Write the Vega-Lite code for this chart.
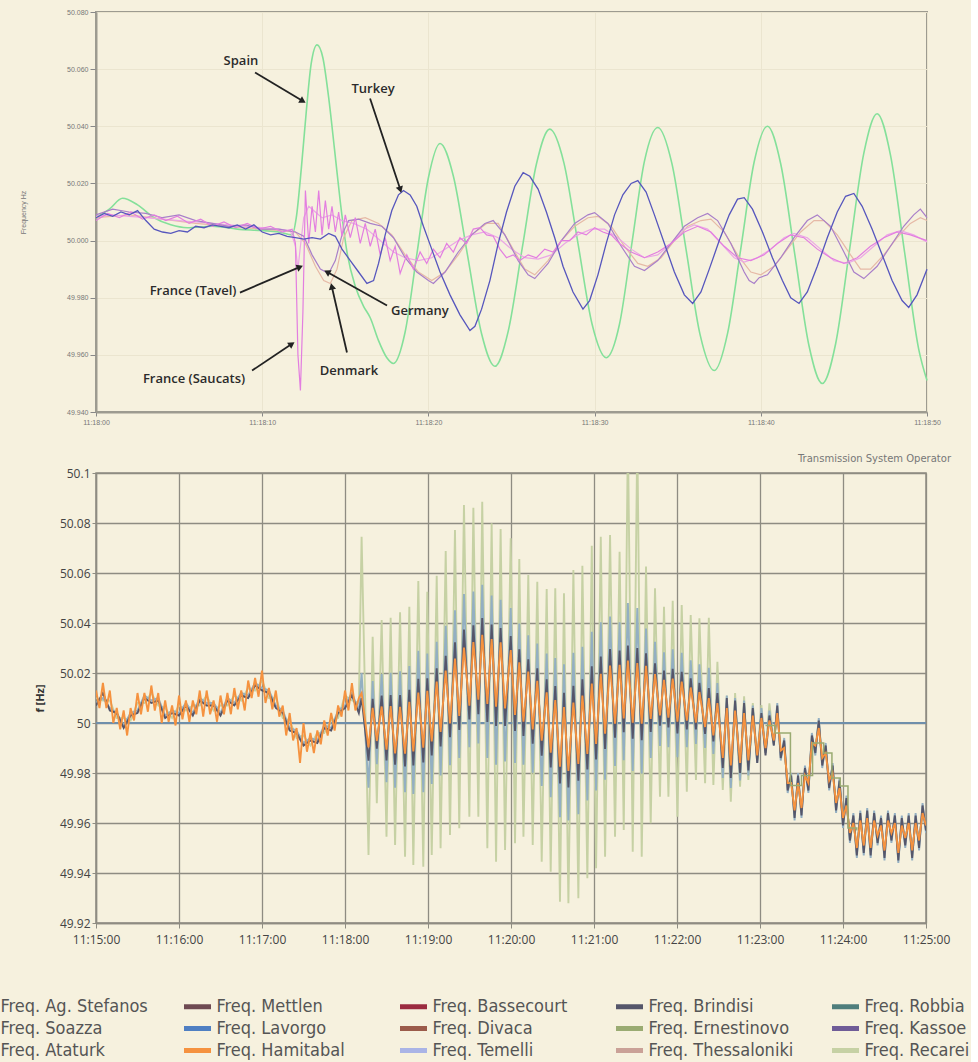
{
"$schema": "https://vega.github.io/schema/vega-lite/v6.json",
"background": "#f6f1de",
"padding": {"left": -31, "top": 7, "right": 0, "bottom": 0},
"spacing": 27,
"resolve": {"scale": {"color": "independent"}, "legend": {"color": "independent"}},
"datasets": {
"spain": [{"t":0,"f":50.008},{"t":0.8,"f":50.011},{"t":1.6,"f":50.0148},{"t":2.5,"f":50.0125},{"t":3.5,"f":50.008},{"t":4.5,"f":50.0055},{"t":5.5,"f":50.0045},{"t":7,"f":50.005},{"t":8.5,"f":50.004},{"t":10,"f":50.0035},{"t":11,"f":50.003},{"t":11.8,"f":50.002},{"t":12.05,"f":50.008},{"t":12.35,"f":50.025},{"t":12.65,"f":50.045},{"t":12.95,"f":50.062},{"t":13.3,"f":50.0685},{"t":13.65,"f":50.064},{"t":14.0,"f":50.05},{"t":14.35,"f":50.032},{"t":14.7,"f":50.0135},{"t":15.1,"f":49.996},{"t":15.6,"f":49.984},{"t":16.1,"f":49.977},{"t":16.5,"f":49.973},{"t":17.0,"f":49.965},{"t":17.5,"f":49.959},{"t":17.9,"f":49.957},{"t":18.6,"f":49.968},{"t":19.3,"f":49.995},{"t":20.0,"f":50.022},{"t":20.7,"f":50.034},{"t":21.5,"f":50.0226},{"t":22.35,"f":49.995},{"t":23.2,"f":49.9674},{"t":24.0,"f":49.956},{"t":24.8,"f":49.9682},{"t":25.65,"f":49.9975},{"t":26.5,"f":50.0268},{"t":27.3,"f":50.039},{"t":28.15,"f":50.0273},{"t":29.0,"f":49.999},{"t":29.85,"f":49.9707},{"t":30.7,"f":49.959},{"t":31.5,"f":49.9708},{"t":32.25,"f":49.9993},{"t":33.0,"f":50.0278},{"t":33.8,"f":50.0396},{"t":34.65,"f":50.027},{"t":35.5,"f":49.997},{"t":36.35,"f":49.967},{"t":37.2,"f":49.9545},{"t":38.0,"f":49.9675},{"t":38.8,"f":49.9973},{"t":39.6,"f":50.0275},{"t":40.4,"f":50.040},{"t":41.2,"f":50.0268},{"t":42.05,"f":49.995},{"t":42.9,"f":49.9632},{"t":43.7,"f":49.950},{"t":44.5,"f":49.9638},{"t":45.35,"f":49.9972},{"t":46.2,"f":50.0306},{"t":47.0,"f":50.0444},{"t":47.8,"f":50.030},{"t":48.65,"f":49.996},{"t":49.5,"f":49.962},{"t":50,"f":49.951}],
"turkey": [{"t":0,"f":50.008},{"t":0.5,"f":50.0095},{"t":1,"f":50.0085},{"t":1.5,"f":50.010},{"t":2,"f":50.009},{"t":2.5,"f":50.0105},{"t":3,"f":50.007},{"t":3.5,"f":50.004},{"t":4,"f":50.003},{"t":4.5,"f":50.0025},{"t":5,"f":50.0035},{"t":5.5,"f":50.003},{"t":6,"f":50.005},{"t":6.5,"f":50.0045},{"t":7,"f":50.0055},{"t":7.5,"f":50.005},{"t":8,"f":50.0045},{"t":8.5,"f":50.0055},{"t":9,"f":50.004},{"t":9.5,"f":50.0055},{"t":10,"f":50.003},{"t":10.5,"f":50.002},{"t":11,"f":50.0025},{"t":11.5,"f":50.0015},{"t":12,"f":50.001},{"t":12.5,"f":50.0005},{"t":13,"f":50.001},{"t":13.5,"f":50.0005},{"t":14,"f":50.0025},{"t":14.4,"f":50.0015},{"t":14.8,"f":49.997},{"t":15.3,"f":49.993},{"t":15.8,"f":49.989},{"t":16.3,"f":49.985},{"t":16.7,"f":49.986},{"t":17.0,"f":49.992},{"t":17.4,"f":50.002},{"t":17.8,"f":50.0105},{"t":18.2,"f":50.016},{"t":18.5,"f":50.0175},{"t":18.9,"f":50.016},{"t":19.3,"f":50.012},{"t":19.7,"f":50.005},{"t":20.2,"f":49.997},{"t":20.7,"f":49.989},{"t":21.3,"f":49.981},{"t":21.9,"f":49.974},{"t":22.5,"f":49.9685},{"t":22.8,"f":49.970},{"t":23.2,"f":49.976},{"t":23.7,"f":49.986},{"t":24.2,"f":49.999},{"t":24.7,"f":50.010},{"t":25.2,"f":50.019},{"t":25.7,"f":50.0238},{"t":26.1,"f":50.0225},{"t":26.6,"f":50.018},{"t":27.1,"f":50.010},{"t":27.6,"f":50.001},{"t":28.1,"f":49.991},{"t":28.7,"f":49.982},{"t":29.3,"f":49.976},{"t":29.7,"f":49.979},{"t":30.2,"f":49.988},{"t":30.7,"f":49.999},{"t":31.2,"f":50.009},{"t":31.7,"f":50.016},{"t":32.2,"f":50.020},{"t":32.6,"f":50.021},{"t":33.1,"f":50.017},{"t":33.6,"f":50.009},{"t":34.2,"f":49.999},{"t":34.8,"f":49.989},{"t":35.4,"f":49.981},{"t":35.9,"f":49.978},{"t":36.4,"f":49.982},{"t":36.9,"f":49.990},{"t":37.5,"f":50.000},{"t":38.1,"f":50.009},{"t":38.6,"f":50.0145},{"t":39.0,"f":50.015},{"t":39.5,"f":50.011},{"t":40.1,"f":50.003},{"t":40.7,"f":49.994},{"t":41.3,"f":49.986},{"t":41.8,"f":49.980},{"t":42.3,"f":49.978},{"t":42.8,"f":49.982},{"t":43.4,"f":49.991},{"t":44.0,"f":50.001},{"t":44.6,"f":50.010},{"t":45.1,"f":50.0155},{"t":45.6,"f":50.0165},{"t":46.1,"f":50.012},{"t":46.7,"f":50.004},{"t":47.3,"f":49.995},{"t":47.9,"f":49.986},{"t":48.5,"f":49.979},{"t":48.9,"f":49.9766},{"t":49.4,"f":49.981},{"t":50,"f":49.990}],
"germany": [{"t":0,"f":50.009},{"t":1,"f":50.011},{"t":2,"f":50.010},{"t":3,"f":50.0095},{"t":4,"f":50.008},{"t":5,"f":50.009},{"t":6,"f":50.007},{"t":7,"f":50.006},{"t":8,"f":50.005},{"t":9,"f":50.0055},{"t":10,"f":50.004},{"t":11,"f":50.004},{"t":12,"f":50.003},{"t":12.5,"f":50.0015},{"t":13.0,"f":49.995},{"t":13.5,"f":49.990},{"t":14.0,"f":49.9885},{"t":14.4,"f":49.993},{"t":14.8,"f":50.002},{"t":15.2,"f":50.007},{"t":15.8,"f":50.0075},{"t":16.5,"f":50.006},{"t":17.2,"f":50.005},{"t":17.9,"f":50.001},{"t":18.6,"f":49.994},{"t":19.3,"f":49.989},{"t":20.0,"f":49.986},{"t":20.3,"f":49.985},{"t":21.0,"f":49.989},{"t":21.8,"f":49.996},{"t":22.6,"f":50.002},{"t":23.4,"f":50.006},{"t":23.9,"f":50.007},{"t":24.6,"f":50.002},{"t":25.4,"f":49.993},{"t":26.0,"f":49.988},{"t":26.4,"f":49.9867},{"t":27.2,"f":49.992},{"t":28.0,"f":50.0},{"t":28.8,"f":50.006},{"t":29.6,"f":50.009},{"t":30.0,"f":50.0098},{"t":30.8,"f":50.006},{"t":31.6,"f":49.998},{"t":32.4,"f":49.991},{"t":33.0,"f":49.9895},{"t":33.8,"f":49.993},{"t":34.6,"f":49.999},{"t":35.4,"f":50.005},{"t":36.2,"f":50.008},{"t":36.8,"f":50.0095},{"t":37.4,"f":50.007},{"t":38.2,"f":49.999},{"t":39.0,"f":49.989},{"t":39.3,"f":49.986},{"t":39.6,"f":49.985},{"t":39.9,"f":49.987},{"t":40.4,"f":49.988},{"t":41.2,"f":49.994},{"t":42.0,"f":50.001},{"t":42.8,"f":50.007},{"t":43.4,"f":50.009},{"t":44.2,"f":50.005},{"t":45.0,"f":49.996},{"t":45.6,"f":49.989},{"t":46.2,"f":49.9867},{"t":47.0,"f":49.991},{"t":47.8,"f":49.998},{"t":48.6,"f":50.005},{"t":49.2,"f":50.009},{"t":49.6,"f":50.011},{"t":50,"f":50.008}],
"denmark": [{"t":0,"f":50.008},{"t":2,"f":50.009},{"t":4,"f":50.0075},{"t":6,"f":50.006},{"t":8,"f":50.005},{"t":10,"f":50.004},{"t":12,"f":50.003},{"t":12.6,"f":49.999},{"t":13.2,"f":49.991},{"t":13.7,"f":49.986},{"t":14.1,"f":49.985},{"t":14.5,"f":49.990},{"t":14.9,"f":50.001},{"t":15.4,"f":50.007},{"t":16.2,"f":50.008},{"t":17.0,"f":50.006},{"t":17.8,"f":50.002},{"t":18.6,"f":49.995},{"t":19.4,"f":49.989},{"t":20.2,"f":49.986},{"t":21.0,"f":49.989},{"t":21.8,"f":49.995},{"t":22.6,"f":50.002},{"t":23.5,"f":50.006},{"t":24.2,"f":50.006},{"t":25.0,"f":49.998},{"t":25.8,"f":49.990},{"t":26.4,"f":49.988},{"t":27.2,"f":49.993},{"t":28.0,"f":50.000},{"t":28.8,"f":50.005},{"t":29.6,"f":50.008},{"t":30.2,"f":50.0085},{"t":31.0,"f":50.005},{"t":31.8,"f":49.998},{"t":32.6,"f":49.992},{"t":33.2,"f":49.991},{"t":34.0,"f":49.994},{"t":34.8,"f":50.000},{"t":35.6,"f":50.005},{"t":36.4,"f":50.007},{"t":37.0,"f":50.0075},{"t":37.8,"f":50.003},{"t":38.6,"f":49.995},{"t":39.4,"f":49.989},{"t":40.0,"f":49.988},{"t":40.8,"f":49.991},{"t":41.6,"f":49.997},{"t":42.4,"f":50.003},{"t":43.2,"f":50.007},{"t":43.8,"f":50.007},{"t":44.6,"f":50.002},{"t":45.4,"f":49.995},{"t":46.0,"f":49.990},{"t":46.6,"f":49.990},{"t":47.4,"f":49.995},{"t":48.2,"f":50.001},{"t":49.0,"f":50.006},{"t":49.6,"f":50.008},{"t":50,"f":50.007}],
"tavel": [{"t":0,"f":50.0085},{"t":1,"f":50.009},{"t":2,"f":50.0085},{"t":3,"f":50.008},{"t":4,"f":50.0075},{"t":5,"f":50.007},{"t":6,"f":50.0065},{"t":7,"f":50.006},{"t":8,"f":50.0055},{"t":9,"f":50.005},{"t":10,"f":50.0045},{"t":11,"f":50.004},{"t":11.7,"f":50.0035},{"t":12.0,"f":49.998},{"t":12.15,"f":49.990},{"t":12.3,"f":49.998},{"t":12.5,"f":50.008},{"t":12.8,"f":50.012},{"t":13.2,"f":50.010},{"t":13.6,"f":50.008},{"t":14.2,"f":50.009},{"t":14.8,"f":50.007},{"t":15.5,"f":50.006},{"t":16.3,"f":50.004},{"t":17.1,"f":50.0},{"t":17.9,"f":49.996},{"t":18.6,"f":49.994},{"t":19.4,"f":49.993},{"t":20.2,"f":49.994},{"t":21.0,"f":49.997},{"t":21.8,"f":50.0},{"t":22.6,"f":50.002},{"t":23.4,"f":50.003},{"t":24.2,"f":50.001},{"t":25.0,"f":49.997},{"t":25.8,"f":49.994},{"t":26.6,"f":49.9935},{"t":27.4,"f":49.995},{"t":28.2,"f":49.999},{"t":29.0,"f":50.002},{"t":29.8,"f":50.004},{"t":30.6,"f":50.004},{"t":31.4,"f":50.001},{"t":32.2,"f":49.997},{"t":33.0,"f":49.994},{"t":33.8,"f":49.995},{"t":34.6,"f":49.999},{"t":35.4,"f":50.004},{"t":36.0,"f":50.0055},{"t":36.8,"f":50.004},{"t":37.6,"f":49.999},{"t":38.4,"f":49.994},{"t":39.0,"f":49.9925},{"t":39.8,"f":49.994},{"t":40.6,"f":49.997},{"t":41.4,"f":50.001},{"t":42.0,"f":50.0025},{"t":42.8,"f":50.001},{"t":43.6,"f":49.997},{"t":44.4,"f":49.993},{"t":45.2,"f":49.992},{"t":46.0,"f":49.994},{"t":46.8,"f":49.998},{"t":47.6,"f":50.002},{"t":48.4,"f":50.0035},{"t":49.2,"f":50.002},{"t":50,"f":49.9995}],
"saucats": [{"t":0,"f":50.007},{"t":0.7,"f":50.0095},{"t":1.4,"f":50.008},{"t":2.1,"f":50.010},{"t":2.8,"f":50.0075},{"t":3.5,"f":50.009},{"t":4.2,"f":50.007},{"t":4.9,"f":50.0085},{"t":5.6,"f":50.006},{"t":6.3,"f":50.0075},{"t":7,"f":50.005},{"t":7.7,"f":50.0065},{"t":8.4,"f":50.0045},{"t":9.1,"f":50.006},{"t":9.8,"f":50.004},{"t":10.5,"f":50.005},{"t":11.2,"f":50.003},{"t":11.8,"f":50.004},{"t":12.0,"f":49.999},{"t":12.15,"f":49.96},{"t":12.3,"f":49.9475},{"t":12.45,"f":49.975},{"t":12.6,"f":50.0175},{"t":12.8,"f":49.999},{"t":13.0,"f":50.012},{"t":13.2,"f":50.003},{"t":13.4,"f":50.0175},{"t":13.6,"f":50.002},{"t":13.8,"f":50.014},{"t":14.0,"f":50.004},{"t":14.2,"f":50.012},{"t":14.4,"f":50.003},{"t":14.6,"f":50.010},{"t":14.8,"f":50.0015},{"t":15.0,"f":50.009},{"t":15.3,"f":50.001},{"t":15.6,"f":50.008},{"t":15.9,"f":49.999},{"t":16.2,"f":50.006},{"t":16.5,"f":49.998},{"t":16.8,"f":50.004},{"t":17.1,"f":49.995},{"t":17.4,"f":50.001},{"t":17.7,"f":49.993},{"t":18.0,"f":49.998},{"t":18.3,"f":49.9885},{"t":18.7,"f":49.995},{"t":19.1,"f":49.990},{"t":19.5,"f":49.996},{"t":19.9,"f":49.992},{"t":20.3,"f":49.997},{"t":20.7,"f":49.994},{"t":21.1,"f":49.999},{"t":21.5,"f":49.996},{"t":21.9,"f":50.001},{"t":22.3,"f":49.999},{"t":22.7,"f":50.004},{"t":23.1,"f":50.0045},{"t":23.5,"f":50.002},{"t":23.9,"f":50.0015},{"t":24.3,"f":49.997},{"t":24.7,"f":49.994},{"t":25.1,"f":49.995},{"t":25.5,"f":49.993},{"t":26.0,"f":49.995},{"t":26.5,"f":49.994},{"t":27.0,"f":49.997},{"t":27.5,"f":49.996},{"t":28.0,"f":50.0},{"t":28.5,"f":50.0},{"t":29.0,"f":50.003},{"t":29.5,"f":50.002},{"t":30.0,"f":50.0045},{"t":30.5,"f":50.003},{"t":31.0,"f":50.002},{"t":31.5,"f":49.999},{"t":32.2,"f":49.996},{"t":33.0,"f":49.994},{"t":33.8,"f":49.996},{"t":34.6,"f":49.999},{"t":35.4,"f":50.003},{"t":36.2,"f":50.005},{"t":37.0,"f":50.003},{"t":37.8,"f":49.998},{"t":38.6,"f":49.994},{"t":39.4,"f":49.993},{"t":40.2,"f":49.995},{"t":41.0,"f":49.999},{"t":41.8,"f":50.002},{"t":42.6,"f":50.001},{"t":43.4,"f":49.997},{"t":44.2,"f":49.994},{"t":45.0,"f":49.992},{"t":45.8,"f":49.994},{"t":46.6,"f":49.998},{"t":47.4,"f":50.001},{"t":48.2,"f":50.003},{"t":49.0,"f":50.002},{"t":50,"f":50.000}],
"labels": [{"n":"Spain","t":8.72,"f":50.0627},{"n":"Turkey","t":16.67,"f":50.0529},{"n":"France (Tavel)","t":5.84,"f":49.9822},{"n":"France (Saucats)","t":5.9,"f":49.9517},{"n":"Germany","t":19.49,"f":49.9752},{"n":"Denmark","t":15.22,"f":49.9545}],
"arrows": [{"n":"Spain","t":9.57,"f":50.0588,"t2":12.39,"f2":50.049},{"n":"Turkey","t":16.49,"f":50.0497,"t2":18.29,"f2":50.0182},{"n":"Tavel","t":8.66,"f":49.9818,"t2":12.21,"f2":49.9906},{"n":"Saucats","t":9.39,"f":49.9545,"t2":11.73,"f2":49.9636},{"n":"Germany","t":17.51,"f":49.9773,"t2":13.96,"f2":49.9888},{"n":"Denmark","t":15.1,"f":49.9608,"t2":14.2,"f2":49.9836}],
"ref": [{"s":"Ag. Stefanos","t":0,"f":50},{"s":"Ag. Stefanos","t":600,"f":50}],
"ern": [{"s":"Ernestinovo","t":484,"f":49.999},{"s":"Ernestinovo","t":491,"f":49.996},{"s":"Ernestinovo","t":502,"f":49.975},{"s":"Ernestinovo","t":510,"f":49.979},{"s":"Ernestinovo","t":518,"f":49.992},{"s":"Ernestinovo","t":526,"f":49.988},{"s":"Ernestinovo","t":532,"f":49.978},{"s":"Ernestinovo","t":538,"f":49.9748},{"s":"Ernestinovo","t":543.6,"f":49.958},{"s":"Ernestinovo","t":550,"f":49.957}],
"bot": [
{"t":0,"Recarei":50.010,"Soazza":50.008,"Brindisi":50.007,"Hamitabal":50.013},
{"t":2.5,"Hamitabal":50.006},
{"t":5,"Recarei":50.009,"Soazza":50.010,"Brindisi":50.012,"Hamitabal":50.016},
{"t":7.5,"Hamitabal":50.006},
{"t":10,"Recarei":50.009,"Soazza":50.006,"Brindisi":50.005,"Hamitabal":50.013},
{"t":12.5,"Hamitabal":50.000},
{"t":15,"Recarei":50.002,"Soazza":50.004,"Brindisi":50.004,"Hamitabal":50.006},
{"t":17.5,"Hamitabal":49.9975},
{"t":20,"Recarei":50.002,"Soazza":49.999,"Brindisi":49.998,"Hamitabal":50.005},
{"t":22.5,"Hamitabal":49.995},
{"t":25,"Recarei":50.001,"Soazza":50.004,"Brindisi":50.003,"Hamitabal":50.006},
{"t":27.5,"Hamitabal":50.001},
{"t":30,"Recarei":50.008,"Soazza":50.005,"Brindisi":50.004,"Hamitabal":50.012},
{"t":32.5,"Hamitabal":50.0035},
{"t":35,"Recarei":50.008,"Soazza":50.011,"Brindisi":50.010,"Hamitabal":50.012},
{"t":37.5,"Hamitabal":50.0045},
{"t":40,"Recarei":50.012,"Soazza":50.009,"Brindisi":50.008,"Hamitabal":50.015},
{"t":42.5,"Hamitabal":50.005},
{"t":45,"Recarei":50.007,"Soazza":50.010,"Brindisi":50.009,"Hamitabal":50.012},
{"t":47.5,"Hamitabal":50.000},
{"t":50,"Recarei":50.006,"Soazza":50.003,"Brindisi":50.002,"Hamitabal":50.009},
{"t":52.5,"Hamitabal":50.0005},
{"t":55,"Recarei":50.002,"Soazza":50.005,"Brindisi":50.004,"Hamitabal":50.007},
{"t":57.5,"Hamitabal":49.999},
{"t":60,"Recarei":50.007,"Soazza":50.004,"Brindisi":50.003,"Hamitabal":50.011},
{"t":62.5,"Hamitabal":50.0015},
{"t":65,"Recarei":50.005,"Soazza":50.008,"Brindisi":50.007,"Hamitabal":50.009},
{"t":67.5,"Hamitabal":50.0005},
{"t":70,"Recarei":50.007,"Soazza":50.004,"Brindisi":50.003,"Hamitabal":50.009},
{"t":72.5,"Hamitabal":50.0035},
{"t":75,"Recarei":50.007,"Soazza":50.010,"Brindisi":50.009,"Hamitabal":50.013},
{"t":77.5,"Hamitabal":50.0025},
{"t":80,"Recarei":50.011,"Soazza":50.008,"Brindisi":50.007,"Hamitabal":50.013},
{"t":82.5,"Hamitabal":50.0035},
{"t":85,"Recarei":50.005,"Soazza":50.008,"Brindisi":50.007,"Hamitabal":50.009},
{"t":87.5,"Hamitabal":50.0005},
{"t":90,"Recarei":50.007,"Soazza":50.004,"Brindisi":50.003,"Hamitabal":50.011},
{"t":92.5,"Hamitabal":50.0035},
{"t":95,"Recarei":50.007,"Soazza":50.010,"Brindisi":50.009,"Hamitabal":50.012},
{"t":97.5,"Hamitabal":50.0035},
{"t":100,"Recarei":50.011,"Soazza":50.008,"Brindisi":50.007,"Hamitabal":50.014},
{"t":102.5,"Hamitabal":50.0055},
{"t":105,"Recarei":50.009,"Soazza":50.012,"Brindisi":50.011,"Hamitabal":50.013},
{"t":107.5,"Hamitabal":50.005},
{"t":110,"Recarei":50.014,"Soazza":50.011,"Brindisi":50.010,"Hamitabal":50.017},
{"t":112.5,"Hamitabal":50.010},
{"t":115,"Recarei":50.013,"Soazza":50.016,"Brindisi":50.015,"Hamitabal":50.018},
{"t":117.5,"Hamitabal":50.0105},
{"t":120,"Recarei":50.017,"Soazza":50.014,"Brindisi":50.013,"Hamitabal":50.021},
{"t":122.5,"Hamitabal":50.008},
{"t":125,"Recarei":50.010,"Soazza":50.013,"Brindisi":50.012,"Hamitabal":50.014},
{"t":127.5,"Hamitabal":50.0055},
{"t":130,"Recarei":50.010,"Soazza":50.007,"Brindisi":50.006,"Hamitabal":50.013},
{"t":132.5,"Hamitabal":50.0025},
{"t":135,"Recarei":50.002,"Soazza":50.005,"Brindisi":50.004,"Hamitabal":50.007},
{"t":137.5,"Hamitabal":49.995},
{"t":140,"Recarei":50.001,"Soazza":49.998,"Brindisi":49.997,"Hamitabal":50.004},
{"t":142.5,"Hamitabal":49.993},
{"t":145,"Recarei":49.994,"Soazza":49.997,"Brindisi":49.996,"Hamitabal":49.998},
{"t":147.5,"Hamitabal":49.984},
{"t":150,"Recarei":49.995,"Soazza":49.992,"Brindisi":49.991,"Hamitabal":50.000},
{"t":152.5,"Hamitabal":49.9885},
{"t":155,"Recarei":49.991,"Soazza":49.994,"Brindisi":49.993,"Hamitabal":49.996},
{"t":157.5,"Hamitabal":49.988},
{"t":160,"Recarei":49.996,"Soazza":49.993,"Brindisi":49.992,"Hamitabal":49.997},
{"t":162.5,"Hamitabal":49.9915},
{"t":165,"Recarei":49.996,"Soazza":49.999,"Brindisi":49.998,"Hamitabal":50.001},
{"t":167.5,"Hamitabal":49.995},
{"t":170,"Recarei":50.001,"Soazza":49.998,"Brindisi":49.997,"Hamitabal":50.004},
{"t":172.5,"Hamitabal":49.997},
{"t":175,"Recarei":50.002,"Soazza":50.005,"Brindisi":50.004,"Hamitabal":50.007},
{"t":177.5,"Hamitabal":50.0025},
{"t":180,"Recarei":50.011,"Soazza":50.007,"Brindisi":50.006,"Hamitabal":50.013},
{"t":182.5,"Hamitabal":50.005},
{"t":185,"Recarei":50.009,"Soazza":50.012,"Brindisi":50.011,"Hamitabal":50.016},
{"t":187.5,"Hamitabal":50.005},
{"t":190,"Recarei":50.008,"Soazza":50.005,"Brindisi":50.004,"Hamitabal":50.010},
{"t":192,"Recarei":50.0745,"Soazza":50.020,"Brindisi":50.010,"Hamitabal":50.012},
{"t":197,"Recarei":49.9472,"Soazza":49.9741,"Brindisi":49.9849,"Hamitabal":49.9902},
{"t":200,"Recarei":50.0345,"Soazza":50.0168,"Brindisi":50.0097,"Hamitabal":50.0061},
{"t":203,"Recarei":49.9679,"Soazza":49.9835,"Brindisi":49.9897,"Hamitabal":49.9928},
{"t":206.5,"Recarei":50.0412,"Soazza":50.0196,"Brindisi":50.011,"Hamitabal":50.0066},
{"t":210,"Recarei":49.9545,"Soazza":49.9763,"Brindisi":49.985,"Hamitabal":49.9893},
{"t":213,"Recarei":50.0421,"Soazza":50.0201,"Brindisi":50.0112,"Hamitabal":50.0068},
{"t":216.2,"Recarei":49.9512,"Soazza":49.9741,"Brindisi":49.9833,"Hamitabal":49.9878},
{"t":219.8,"Recarei":50.0443,"Soazza":50.0207,"Brindisi":50.0112,"Hamitabal":50.0065},
{"t":223.4,"Recarei":49.9465,"Soazza":49.9723,"Brindisi":49.9826,"Hamitabal":49.9877},
{"t":226.5,"Recarei":50.0465,"Soazza":50.0228,"Brindisi":50.0133,"Hamitabal":50.0085},
{"t":229.4,"Recarei":49.9432,"Soazza":49.9716,"Brindisi":49.983,"Hamitabal":49.9886},
{"t":233,"Recarei":50.0568,"Soazza":50.0289,"Brindisi":50.0177,"Hamitabal":50.0122},
{"t":236.6,"Recarei":49.9425,"Soazza":49.9723,"Brindisi":49.9842,"Hamitabal":49.9901},
{"t":239.5,"Recarei":50.0525,"Soazza":50.0278,"Brindisi":50.0179,"Hamitabal":50.0129},
{"t":242.7,"Recarei":49.9472,"Soazza":49.9756,"Brindisi":49.987,"Hamitabal":49.9926},
{"t":246.3,"Recarei":50.0589,"Soazza":50.0325,"Brindisi":50.0219,"Hamitabal":50.0166},
{"t":249.1,"Recarei":49.9499,"Soazza":49.979,"Brindisi":49.9906,"Hamitabal":49.9964},
{"t":252.8,"Recarei":50.0688,"Soazza":50.0389,"Brindisi":50.0269,"Hamitabal":50.021},
{"t":255.9,"Recarei":49.9552,"Soazza":49.9831,"Brindisi":49.9943,"Hamitabal":49.9998},
{"t":259.5,"Recarei":50.0772,"Soazza":50.0451,"Brindisi":50.0323,"Hamitabal":50.0258},
{"t":262.6,"Recarei":49.9579,"Soazza":49.986,"Brindisi":49.9972,"Hamitabal":50.0028},
{"t":266,"Recarei":50.0872,"Soazza":50.0516,"Brindisi":50.0374,"Hamitabal":50.0302},
{"t":269.9,"Recarei":49.9625,"Soazza":49.9903,"Brindisi":50.0014,"Hamitabal":50.0069},
{"t":272.8,"Recarei":50.0861,"Soazza":50.0526,"Brindisi":50.0391,"Hamitabal":50.0324},
{"t":276.4,"Recarei":49.9625,"Soazza":49.9918,"Brindisi":50.0035,"Hamitabal":50.0093},
{"t":279.2,"Recarei":50.0885,"Soazza":50.0553,"Brindisi":50.042,"Hamitabal":50.0353},
{"t":282.9,"Recarei":49.9499,"Soazza":49.986,"Brindisi":50.0004,"Hamitabal":50.0076},
{"t":286,"Recarei":50.0799,"Soazza":50.051,"Brindisi":50.0394,"Hamitabal":50.0336},
{"t":289.2,"Recarei":49.9445,"Soazza":49.9833,"Brindisi":49.9988,"Hamitabal":50.0065},
{"t":292.5,"Recarei":50.0776,"Soazza":50.0493,"Brindisi":50.038,"Hamitabal":50.0323},
{"t":295.7,"Recarei":49.9492,"Soazza":49.9846,"Brindisi":49.9988,"Hamitabal":50.0058},
{"t":299.8,"Recarei":50.0739,"Soazza":50.046,"Brindisi":50.0348,"Hamitabal":50.0292},
{"t":302.9,"Recarei":49.9519,"Soazza":49.984,"Brindisi":49.9968,"Hamitabal":50.0032},
{"t":306,"Recarei":50.0656,"Soazza":50.0398,"Brindisi":50.0295,"Hamitabal":50.0243},
{"t":309,"Recarei":49.9545,"Soazza":49.9833,"Brindisi":49.9948,"Hamitabal":50.0005},
{"t":312.5,"Recarei":50.0592,"Soazza":50.0351,"Brindisi":50.0255,"Hamitabal":50.0206},
{"t":315.7,"Recarei":49.9512,"Soazza":49.9801,"Brindisi":49.9917,"Hamitabal":49.9974},
{"t":319,"Recarei":50.0565,"Soazza":50.0318,"Brindisi":50.0219,"Hamitabal":50.0169},
{"t":322.2,"Recarei":49.9445,"Soazza":49.9748,"Brindisi":49.9869,"Hamitabal":49.9929},
{"t":325.8,"Recarei":50.0536,"Soazza":50.0278,"Brindisi":50.0175,"Hamitabal":50.0123},
{"t":328.7,"Recarei":49.9405,"Soazza":49.9703,"Brindisi":49.9822,"Hamitabal":49.9881},
{"t":332,"Recarei":50.0539,"Soazza":50.026,"Brindisi":50.0148,"Hamitabal":50.0092},
{"t":335.4,"Recarei":49.9285,"Soazza":49.9623,"Brindisi":49.9758,"Hamitabal":49.9825},
{"t":338.3,"Recarei":50.0519,"Soazza":50.0235,"Brindisi":50.0121,"Hamitabal":50.0064},
{"t":341.5,"Recarei":49.9279,"Soazza":49.961,"Brindisi":49.9742,"Hamitabal":49.9808},
{"t":345.1,"Recarei":50.0612,"Soazza":50.0281,"Brindisi":50.0149,"Hamitabal":50.0082},
{"t":348.7,"Recarei":49.9299,"Soazza":49.9635,"Brindisi":49.9769,"Hamitabal":49.9836},
{"t":351.6,"Recarei":50.0629,"Soazza":50.0305,"Brindisi":50.0175,"Hamitabal":50.011},
{"t":355.2,"Recarei":49.9379,"Soazza":49.969,"Brindisi":49.9814,"Hamitabal":49.9876},
{"t":358.4,"Recarei":50.0709,"Soazza":50.0365,"Brindisi":50.0227,"Hamitabal":50.0158},
{"t":361.5,"Recarei":49.9419,"Soazza":49.973,"Brindisi":49.9854,"Hamitabal":49.9916},
{"t":364.9,"Recarei":50.0745,"Soazza":50.0403,"Brindisi":50.0266,"Hamitabal":50.0197},
{"t":368,"Recarei":49.9465,"Soazza":49.9773,"Brindisi":49.9896,"Hamitabal":49.9957},
{"t":371.6,"Recarei":50.0752,"Soazza":50.0426,"Brindisi":50.0296,"Hamitabal":50.023},
{"t":375.2,"Recarei":49.9545,"Soazza":49.9828,"Brindisi":49.9941,"Hamitabal":49.9997},
{"t":378.5,"Recarei":50.0685,"Soazza":50.0403,"Brindisi":50.029,"Hamitabal":50.0233},
{"t":381.5,"Recarei":49.9572,"Soazza":49.9851,"Brindisi":49.9963,"Hamitabal":50.0018},
{"t":384.5,"Recarei":50.115,"Soazza":50.048,"Brindisi":50.031,"Hamitabal":50.025},
{"t":388,"Recarei":49.9485,"Soazza":49.9808,"Brindisi":49.9937,"Hamitabal":50.0001},
{"t":391.3,"Recarei":50.115,"Soazza":50.046,"Brindisi":50.03,"Hamitabal":50.024},
{"t":394.5,"Recarei":49.9465,"Soazza":49.9798,"Brindisi":49.9931,"Hamitabal":49.9997},
{"t":397.6,"Recarei":50.0626,"Soazza":50.0378,"Brindisi":50.0279,"Hamitabal":50.0229},
{"t":401,"Recarei":49.9599,"Soazza":49.986,"Brindisi":49.9964,"Hamitabal":50.0016},
{"t":404.1,"Recarei":50.0539,"Soazza":50.0325,"Brindisi":50.0239,"Hamitabal":50.0196},
{"t":407.7,"Recarei":49.9705,"Soazza":49.9908,"Brindisi":49.9989,"Hamitabal":50.003},
{"t":410.6,"Recarei":50.0465,"Soazza":50.0283,"Brindisi":50.021,"Hamitabal":50.0173},
{"t":413.8,"Recarei":49.9705,"Soazza":49.9903,"Brindisi":49.9982,"Hamitabal":50.0021},
{"t":416.9,"Recarei":50.0489,"Soazza":50.0295,"Brindisi":50.0217,"Hamitabal":50.0178},
{"t":420.3,"Recarei":49.9625,"Soazza":49.9863,"Brindisi":49.9958,"Hamitabal":50.0005},
{"t":423.4,"Recarei":50.0472,"Soazza":50.0281,"Brindisi":50.0205,"Hamitabal":50.0166},
{"t":427.1,"Recarei":49.9725,"Soazza":49.9903,"Brindisi":49.9974,"Hamitabal":50.0009},
{"t":429.9,"Recarei":50.0432,"Soazza":50.0251,"Brindisi":50.0179,"Hamitabal":50.0142},
{"t":433.7,"Recarei":49.9772,"Soazza":49.9916,"Brindisi":49.9974,"Hamitabal":50.0002},
{"t":436.2,"Recarei":50.0419,"Soazza":50.0235,"Brindisi":50.0161,"Hamitabal":50.0124},
{"t":440.3,"Recarei":49.9759,"Soazza":49.99,"Brindisi":49.9956,"Hamitabal":49.9984},
{"t":443,"Recarei":50.0421,"Soazza":50.0221,"Brindisi":50.014,"Hamitabal":50.01},
{"t":446.3,"Recarei":49.9752,"Soazza":49.9876,"Brindisi":49.9926,"Hamitabal":49.995},
{"t":449.2,"Recarei":50.0245,"Soazza":50.016,"Brindisi":50.012,"Hamitabal":50.008},
{"t":453.1,"Recarei":49.9732,"Soazza":49.978,"Brindisi":49.982,"Hamitabal":49.986},
{"t":456,"Recarei":50.0109,"Soazza":50.011,"Brindisi":50.010,"Hamitabal":50.006},
{"t":458.9,"Recarei":49.9685,"Soazza":49.974,"Brindisi":49.978,"Hamitabal":49.983},
{"t":462,"Recarei":50.012,"Soazza":50.010,"Brindisi":50.009,"Hamitabal":50.005},
{"t":465.6,"Recarei":49.9745,"Soazza":49.977,"Brindisi":49.980,"Hamitabal":49.984},
{"t":468.5,"Recarei":50.0107,"Soazza":50.009,"Brindisi":50.008,"Hamitabal":50.004},
{"t":471.6,"Recarei":49.9772,"Soazza":49.979,"Brindisi":49.981,"Hamitabal":49.985},
{"t":474.8,"Recarei":50.008,"Soazza":50.007,"Brindisi":50.006,"Hamitabal":50.003},
{"t":478,"Recarei":49.985,"Soazza":49.984,"Brindisi":49.984,"Hamitabal":49.987},
{"t":481,"Recarei":50.0072,"Soazza":50.006,"Brindisi":50.004,"Hamitabal":50.002},
{"t":484,"Recarei":49.988,"Soazza":49.988,"Brindisi":49.987,"Hamitabal":49.99},
{"t":486.8,"Recarei":50.0079,"Soazza":50.005,"Brindisi":50.003,"Hamitabal":50.001},
{"t":490,"Recarei":49.992,"Soazza":49.991,"Brindisi":49.991,"Hamitabal":49.993},
{"t":492.5,"Recarei":50.005,"Soazza":50.008,"Brindisi":50.007,"Hamitabal":50.004},
{"t":495,"Recarei":49.988,"Soazza":49.985,"Brindisi":49.986,"Hamitabal":49.989},
{"t":497.5,"Recarei":49.991,"Soazza":49.994,"Brindisi":49.993,"Hamitabal":49.990},
{"t":500,"Recarei":49.975,"Soazza":49.972,"Brindisi":49.973,"Hamitabal":49.976},
{"t":502.5,"Recarei":49.977,"Soazza":49.980,"Brindisi":49.979,"Hamitabal":49.976},
{"t":505,"Recarei":49.964,"Soazza":49.961,"Brindisi":49.962,"Hamitabal":49.965},
{"t":507.5,"Recarei":49.977,"Soazza":49.980,"Brindisi":49.979,"Hamitabal":49.976},
{"t":510,"Recarei":49.965,"Soazza":49.962,"Brindisi":49.963,"Hamitabal":49.966},
{"t":512.5,"Recarei":49.980,"Soazza":49.983,"Brindisi":49.982,"Hamitabal":49.979},
{"t":515,"Recarei":49.975,"Soazza":49.972,"Brindisi":49.973,"Hamitabal":49.976},
{"t":517.5,"Recarei":49.993,"Soazza":49.996,"Brindisi":49.995,"Hamitabal":49.992},
{"t":520,"Recarei":49.990,"Soazza":49.987,"Brindisi":49.988,"Hamitabal":49.991},
{"t":522.5,"Recarei":50.001,"Soazza":50.002,"Brindisi":50.001,"Hamitabal":49.998},
{"t":525,"Recarei":49.985,"Soazza":49.982,"Brindisi":49.983,"Hamitabal":49.986},
{"t":527.5,"Recarei":49.989,"Soazza":49.992,"Brindisi":49.991,"Hamitabal":49.988},
{"t":530,"Recarei":49.976,"Soazza":49.973,"Brindisi":49.974,"Hamitabal":49.977},
{"t":532.5,"Recarei":49.981,"Soazza":49.984,"Brindisi":49.983,"Hamitabal":49.980},
{"t":535,"Recarei":49.967,"Soazza":49.964,"Brindisi":49.965,"Hamitabal":49.968},
{"t":537.5,"Recarei":49.975,"Soazza":49.978,"Brindisi":49.977,"Hamitabal":49.974},
{"t":540,"Recarei":49.961,"Soazza":49.958,"Brindisi":49.959,"Hamitabal":49.962},
{"t":542.5,"Recarei":49.968,"Soazza":49.971,"Brindisi":49.970,"Hamitabal":49.967},
{"t":545,"Recarei":49.955,"Soazza":49.952,"Brindisi":49.953,"Hamitabal":49.956},
{"t":547.5,"Recarei":49.961,"Soazza":49.964,"Brindisi":49.963,"Hamitabal":49.960},
{"t":550,"Recarei":49.949,"Soazza":49.946,"Brindisi":49.947,"Hamitabal":49.950},
{"t":552.5,"Recarei":49.962,"Soazza":49.965,"Brindisi":49.964,"Hamitabal":49.961},
{"t":555,"Recarei":49.950,"Soazza":49.947,"Brindisi":49.948,"Hamitabal":49.951},
{"t":557.5,"Recarei":49.963,"Soazza":49.966,"Brindisi":49.965,"Hamitabal":49.962},
{"t":560,"Recarei":49.949,"Soazza":49.946,"Brindisi":49.947,"Hamitabal":49.950},
{"t":562.5,"Recarei":49.962,"Soazza":49.965,"Brindisi":49.964,"Hamitabal":49.961},
{"t":565,"Recarei":49.954,"Soazza":49.951,"Brindisi":49.952,"Hamitabal":49.955},
{"t":567.5,"Recarei":49.960,"Soazza":49.963,"Brindisi":49.962,"Hamitabal":49.959},
{"t":570,"Recarei":49.948,"Soazza":49.945,"Brindisi":49.946,"Hamitabal":49.949},
{"t":572.5,"Recarei":49.962,"Soazza":49.965,"Brindisi":49.964,"Hamitabal":49.961},
{"t":575,"Recarei":49.955,"Soazza":49.952,"Brindisi":49.953,"Hamitabal":49.956},
{"t":577.5,"Recarei":49.961,"Soazza":49.964,"Brindisi":49.963,"Hamitabal":49.960},
{"t":580,"Recarei":49.947,"Soazza":49.944,"Brindisi":49.945,"Hamitabal":49.948},
{"t":582.5,"Recarei":49.960,"Soazza":49.963,"Brindisi":49.962,"Hamitabal":49.959},
{"t":585,"Recarei":49.953,"Soazza":49.950,"Brindisi":49.951,"Hamitabal":49.954},
{"t":587.5,"Recarei":49.961,"Soazza":49.964,"Brindisi":49.963,"Hamitabal":49.960},
{"t":590,"Recarei":49.948,"Soazza":49.945,"Brindisi":49.946,"Hamitabal":49.949},
{"t":592.5,"Recarei":49.961,"Soazza":49.964,"Brindisi":49.963,"Hamitabal":49.960},
{"t":595,"Recarei":49.952,"Soazza":49.949,"Brindisi":49.950,"Hamitabal":49.953},
{"t":597.5,"Recarei":49.965,"Soazza":49.968,"Brindisi":49.967,"Hamitabal":49.964},
{"t":600,"Recarei":49.958,"Soazza":49.956,"Brindisi":49.957,"Hamitabal":49.959}
]
},
"vconcat": [
{
"width": 831,
"height": 400,
"view": {"stroke": "#9d9b90", "strokeWidth": 2},
"encoding": {
"x": {"field": "t", "type": "quantitative", "scale": {"domain": [0, 50], "nice": false, "zero": false},
"axis": {"title": null, "values": [0, 10, 20, 30, 40, 50], "labelExpr": "'11:18:' + (datum.value < 10 ? '0' : '') + datum.value", "labelFlush": false, "labelFont": "Liberation Sans", "labelFontSize": 7, "labelColor": "#777", "labelPadding": 2, "tickSize": 4, "tickColor": "#888", "domainColor": "#9d9b90", "domainWidth": 2, "grid": true, "gridColor": "#ebe5cf"}},
"y": {"field": "f", "type": "quantitative", "scale": {"domain": [49.94, 50.08], "nice": false, "zero": false},
"axis": {"title": "Frequency Hz", "titleFont": "Liberation Sans", "titleFontSize": 7, "titleFontWeight": "normal", "titleColor": "#777", "titlePadding": 40, "values": [49.94, 49.96, 49.98, 50, 50.02, 50.04, 50.06, 50.08], "format": ".3f", "labelFlush": false, "labelFont": "Liberation Sans", "labelFontSize": 7, "labelColor": "#777", "labelPadding": 2, "tickSize": 6, "tickColor": "#888", "domainColor": "#9d9b90", "domainWidth": 2, "grid": true, "gridColor": "#ebe5cf"}}
},
"layer": [
{"data": {"name": "spain"}, "mark": {"type": "line", "color": "#84e09a", "strokeWidth": 1.6, "interpolate": "monotone"}},
{"data": {"name": "denmark"}, "mark": {"type": "line", "color": "#e6b9a6", "strokeWidth": 1.2}},
{"data": {"name": "tavel"}, "mark": {"type": "line", "color": "#eba6e6", "strokeWidth": 1.2}},
{"data": {"name": "germany"}, "mark": {"type": "line", "color": "#a97fc9", "strokeWidth": 1.2}},
{"data": {"name": "saucats"}, "mark": {"type": "line", "color": "#e37ee0", "strokeWidth": 1.2}},
{"data": {"name": "turkey"}, "mark": {"type": "line", "color": "#5656bd", "strokeWidth": 1.3}},
{"data": {"name": "arrows"}, "mark": {"type": "rule", "color": "#222", "strokeWidth": 1.8}, "encoding": {"x2": {"field": "t2"}, "y2": {"field": "f2"}}},
{"data": {"name": "arrows"}, "transform": [{"filter": "datum.n == 'Spain'"}], "mark": {"type": "point", "shape": "triangle", "filled": true, "size": 55, "angle": 121, "color": "#222", "opacity": 1}, "encoding": {"x": {"field": "t2", "type": "quantitative"}, "y": {"field": "f2", "type": "quantitative"}}},
{"data": {"name": "arrows"}, "transform": [{"filter": "datum.n == 'Turkey'"}], "mark": {"type": "point", "shape": "triangle", "filled": true, "size": 55, "angle": 162, "color": "#222", "opacity": 1}, "encoding": {"x": {"field": "t2", "type": "quantitative"}, "y": {"field": "f2", "type": "quantitative"}}},
{"data": {"name": "arrows"}, "transform": [{"filter": "datum.n == 'Tavel'"}], "mark": {"type": "point", "shape": "triangle", "filled": true, "size": 55, "angle": 67, "color": "#222", "opacity": 1}, "encoding": {"x": {"field": "t2", "type": "quantitative"}, "y": {"field": "f2", "type": "quantitative"}}},
{"data": {"name": "arrows"}, "transform": [{"filter": "datum.n == 'Saucats'"}], "mark": {"type": "point", "shape": "triangle", "filled": true, "size": 55, "angle": 56, "color": "#222", "opacity": 1}, "encoding": {"x": {"field": "t2", "type": "quantitative"}, "y": {"field": "f2", "type": "quantitative"}}},
{"data": {"name": "arrows"}, "transform": [{"filter": "datum.n == 'Germany'"}], "mark": {"type": "point", "shape": "triangle", "filled": true, "size": 55, "angle": 299, "color": "#222", "opacity": 1}, "encoding": {"x": {"field": "t2", "type": "quantitative"}, "y": {"field": "f2", "type": "quantitative"}}},
{"data": {"name": "arrows"}, "transform": [{"filter": "datum.n == 'Denmark'"}], "mark": {"type": "point", "shape": "triangle", "filled": true, "size": 55, "angle": 347, "color": "#222", "opacity": 1}, "encoding": {"x": {"field": "t2", "type": "quantitative"}, "y": {"field": "f2", "type": "quantitative"}}},
{"data": {"name": "labels"}, "mark": {"type": "text", "font": "Open Sans", "fontSize": 13, "fontWeight": 600, "color": "#2b2b2b", "align": "center", "baseline": "middle"}, "encoding": {"text": {"field": "n"}}}
]
},
{
"width": 830,
"height": 450,
"title": {"text": "Transmission System Operator", "anchor": "end", "frame": "group", "font": "DejaVu Sans", "fontSize": 10, "fontWeight": "normal", "color": "#777", "offset": 3, "dx": 25},
"view": {"stroke": "#8e8c82", "strokeWidth": 1.5},
"encoding": {
"x": {"field": "t", "type": "quantitative", "scale": {"domain": [0, 600], "nice": false, "zero": false},
"axis": {"title": null, "values": [0, 60, 120, 180, 240, 300, 360, 420, 480, 540, 600], "labelExpr": "'11:' + (15 + floor(datum.value / 60)) + ':00'", "labelFlush": false, "labelFont": "Open Sans", "labelFontSize": 12, "labelColor": "#444", "labelPadding": 6, "tickSize": 5, "tickColor": "#8e8c82", "domainColor": "#8e8c82", "domainWidth": 1.5, "grid": true, "gridColor": "#8e8c82", "gridWidth": 1.3, "gridOpacity": 1}},
"y": {"field": "f", "type": "quantitative", "scale": {"domain": [49.92, 50.1], "nice": false, "zero": false},
"axis": {"title": "f [Hz]", "titleFont": "Open Sans", "titleFontSize": 11, "titleFontWeight": "bold", "titleColor": "#333", "titlePadding": 14, "values": [49.92, 49.94, 49.96, 49.98, 50, 50.02, 50.04, 50.06, 50.08, 50.1], "format": "~g", "labelFlush": false, "labelFont": "Open Sans", "labelFontSize": 12, "labelColor": "#444", "labelPadding": 2, "tickSize": 4, "tickColor": "#8e8c82", "domainColor": "#8e8c82", "domainWidth": 1.5, "grid": true, "gridColor": "#8e8c82", "gridWidth": 1.3, "gridOpacity": 1}},
"color": {"field": "s", "type": "nominal",
"scale": {"domain": ["Ag. Stefanos", "Mettlen", "Bassecourt", "Brindisi", "Robbia", "Soazza", "Lavorgo", "Divaca", "Ernestinovo", "Kassoe", "Ataturk", "Hamitabal", "Temelli", "Thessaloniki", "Recarei"],
"range": ["#6f8fab", "#6e4a52", "#9b2b3f", "#55566a", "#4f7e7c", "#93afc2", "#4f7fc2", "#9b5b4a", "#9aab72", "#6f5c97", "#c9a25a", "#f5923f", "#aab4e6", "#caa197", "#c6d1a4"]},
"legend": {"orient": "none", "legendX": -126, "legendY": 522, "columns": 5, "direction": "horizontal", "title": null, "symbolType": "M-1.5,0L1.5,0", "symbolStrokeWidth": 5, "symbolSize": 324, "symbolOpacity": 1, "symbolFillColor": "transparent", "labelFont": "Liberation Sans Narrow, DejaVu Sans Condensed, sans-serif", "labelFontSize": 18, "labelColor": "#555", "labelOffset": 7.5, "labelLimit": 300, "columnPadding": 26, "rowPadding": 0, "gridAlign": "all", "padding": 0, "labelExpr": "'Freq. ' + datum.label"}}
},
"layer": [
{"data": {"name": "ref"}, "mark": {"type": "line", "strokeWidth": 2.2, "clip": true}},
{"data": {"name": "bot"}, "transform": [{"fold": ["Recarei", "Soazza", "Brindisi", "Hamitabal"], "as": ["s", "f"]}, {"filter": "isValid(datum.f)"}], "mark": {"type": "line", "strokeWidth": 1.9, "clip": true}},
{"data": {"name": "ern"}, "mark": {"type": "line", "strokeWidth": 1.5, "interpolate": "step-after", "clip": true}}
]
}
]
}
